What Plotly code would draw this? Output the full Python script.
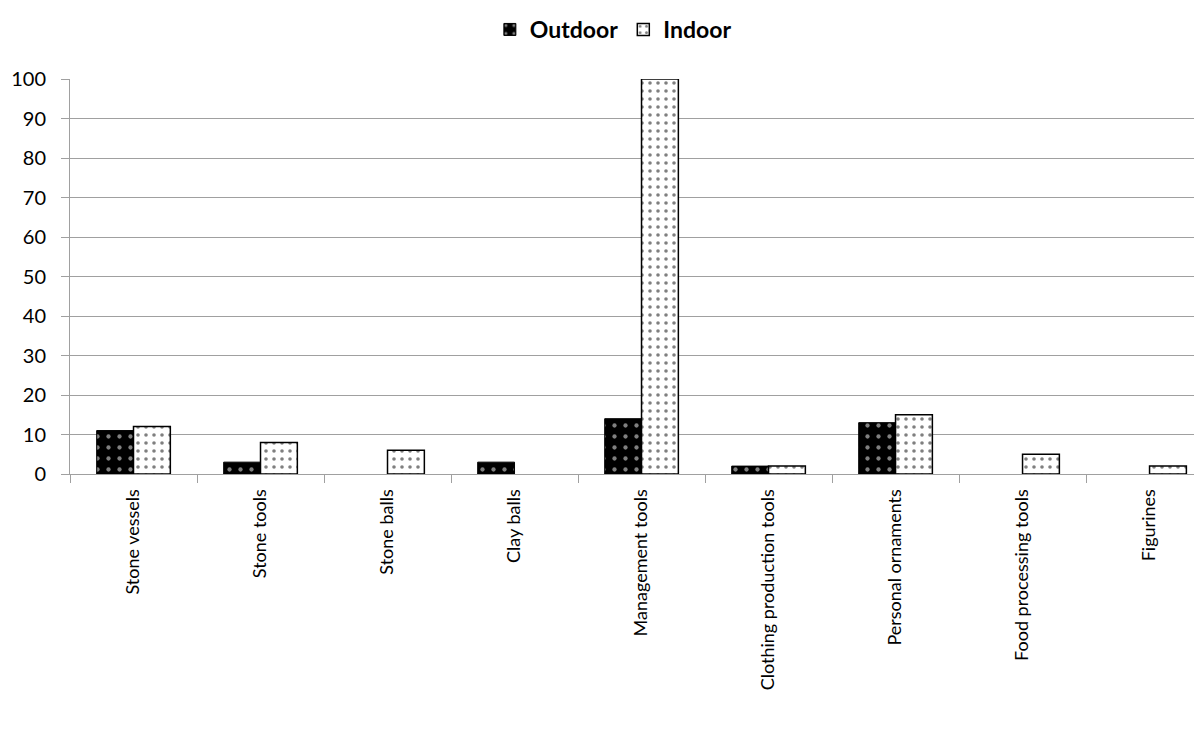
import plotly.graph_objects as go

categories = ["Stone vessels", "Stone tools", "Stone balls", "Clay balls", "Management tools",
              "Clothing production tools", "Personal ornaments", "Food processing tools", "Figurines"]
outdoor = [11, 3, None, 3, 14, 2, 13, None, None]
indoor = [12, 8, 6, None, 100, 2, 15, 5, 2]
y_ticks = list(range(0, 101, 10))

FONT = "Lato"

fig = go.Figure()
fig.add_trace(go.Bar(
    x=categories, y=outdoor, name="Outdoor",
    marker=dict(color="black", line=dict(color="black", width=1),
                pattern=dict(shape=".", fgcolor="white", bgcolor="black", size=11, solidity=0.12)),
))
fig.add_trace(go.Bar(
    x=categories, y=indoor, name="Indoor",
    marker=dict(color="white", line=dict(color="black", width=1.5),
                pattern=dict(shape=".", fgcolor="black", bgcolor="white", size=8, solidity=0.16)),
))

fig.update_layout(
    width=1202, height=735,
    barmode="group", bargap=0.42, bargroupgap=0,
    plot_bgcolor="white", paper_bgcolor="white",
    margin=dict(l=62, r=8, t=71, b=269),
    font=dict(family=FONT, size=18, color="black"),
    legend=dict(orientation="h", x=0.48, xanchor="center", y=1.0, yanchor="top", yref="container",
                font=dict(family=FONT, size=23, color="black", weight="bold"),
                itemwidth=30, tracegroupgap=0),
    xaxis=dict(range=[-0.5, 8.413], showline=True, linecolor="#a0a0a0", linewidth=1,
               ticks="outside", tickson="boundaries", ticklen=8, tickcolor="#a0a0a0",
               tickangle=-90, showgrid=False, ticklabelstandoff=7, automargin=False,
               tickfont=dict(family=FONT, size=18)),
    yaxis=dict(range=[0, 100], tickvals=y_ticks, showline=True, linecolor="#a0a0a0", linewidth=1,
               ticks="outside", ticklen=8, tickcolor="#a0a0a0", ticklabelstandoff=11,
               gridcolor="#a0a0a0", gridwidth=1, zeroline=False, automargin=False,
               tickfont=dict(family=FONT, size=20)),
)

fig.write_html("out.html")
